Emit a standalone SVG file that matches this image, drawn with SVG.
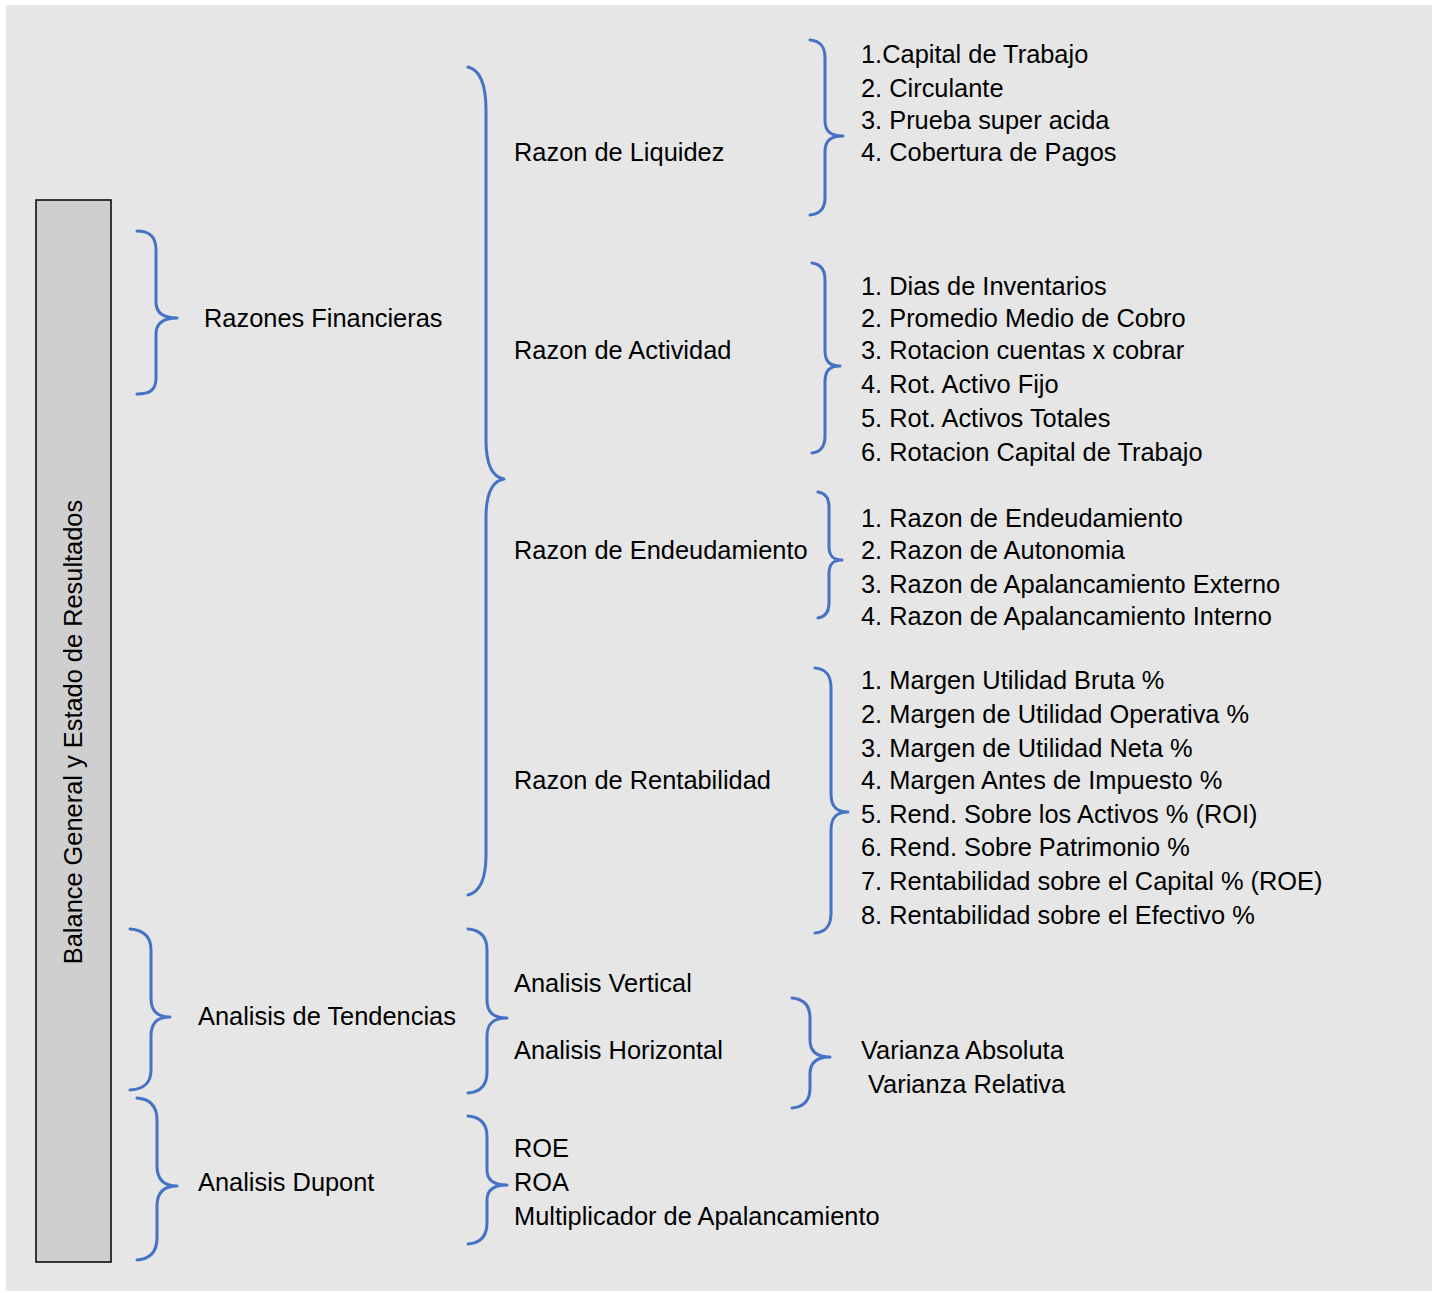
<svg xmlns="http://www.w3.org/2000/svg" width="1437" height="1293" viewBox="0 0 1437 1293">
<style>
.t{font-family:"Liberation Sans",Arial,sans-serif;font-size:25.4px;fill:#000}
.b{fill:none;stroke:#4472c4;stroke-width:3;stroke-linecap:round;stroke-linejoin:round}
</style>
<rect x="0" y="0" width="1437" height="1293" fill="#ffffff"/>
<rect x="6" y="5" width="1426" height="1286" fill="#e6e6e6"/>
<g id="root">
<rect x="36" y="200" width="75" height="1062" fill="#d0cfd0" stroke="#000" stroke-width="1.5"/>
<text class="t" transform="translate(82,732) rotate(-90)" text-anchor="middle">Balance General y Estado de Resultados</text>
</g>
<g id="connectors">
<path class="b" d="M137,231 C150,231 156,237 156,250 L156,302 C156,312 162,318 177,318 C162,318 156,324 156,334 L156,378 C156,390 150,394 137,394"/>
<path class="b" d="M468,67 C480,70 486,85 486,110 L486,440 C486,465 492,477 504,479 C492,481 486,493 486,518 L486,855 C486,880 480,892 468,895"/>
<path class="b" d="M810,40 C820,41 825,46 825,58 L825,120 C825,131 830,136 843,136 C830,136 825,141 825,152 L825,198 C825,209 820,214 810,215"/>
<path class="b" d="M812,263 C820,264 825,269 825,280 L825,350 C825,361 829,366 840,366 C829,366 825,371 825,382 L825,436 C825,447 820,452 812,453"/>
<path class="b" d="M818,492 C825,493 829,497 829,507 L829,546 C829,556 833,560 842,560 C833,560 829,564 829,574 L829,603 C829,613 825,617 818,618"/>
<path class="b" d="M815,668 C826,669 831,675 831,688 L831,794 C831,806 836,812 848,812 C836,812 831,818 831,830 L831,913 C831,926 826,932 815,933"/>
<path class="b" d="M130,929 C144,930 151,937 151,950 L151,998 C151,1011 157,1017 170,1017 C157,1017 151,1023 151,1036 L151,1070 C151,1083 144,1089 130,1090"/>
<path class="b" d="M137,1098 C150,1099 157,1106 157,1120 L157,1166 C157,1179 163,1186 177,1186 C163,1186 157,1193 157,1206 L157,1238 C157,1252 150,1259 137,1260"/>
<path class="b" d="M468,929 C481,930 487,937 487,950 L487,1000 C487,1012 493,1018 507,1018 C493,1018 487,1024 487,1036 L487,1072 C487,1085 481,1092 468,1093"/>
<path class="b" d="M468,1116 C481,1117 487,1124 487,1137 L487,1170 C487,1180 493,1185 507,1185 C493,1185 487,1190 487,1200 L487,1223 C487,1236 481,1243 468,1244"/>
<path class="b" d="M792,998 C804,999 810,1006 810,1018 L810,1040 C810,1051 816,1057 830,1057 C816,1057 810,1063 810,1074 L810,1088 C810,1100 804,1107 792,1108"/>
</g>
<g id="n-razones"><text class="t" x="204" y="327">Razones Financieras</text></g>
<g id="n-liquidez">
<text class="t" x="514" y="161">Razon de Liquidez</text>
</g>
<g id="n-liquidez-items">
<text class="t" x="861" y="63">1.Capital de Trabajo</text>
<text class="t" x="861" y="97">2. Circulante</text>
<text class="t" x="861" y="129">3. Prueba super acida</text>
<text class="t" x="861" y="161">4. Cobertura de Pagos</text>
</g>
<g id="n-actividad"><text class="t" x="514" y="359">Razon de Actividad</text></g>
<g id="n-actividad-items">
<text class="t" x="861" y="295">1. Dias de Inventarios</text>
<text class="t" x="861" y="327">2. Promedio Medio de Cobro</text>
<text class="t" x="861" y="359">3. Rotacion cuentas x cobrar</text>
<text class="t" x="861" y="393">4. Rot. Activo Fijo</text>
<text class="t" x="861" y="427">5. Rot. Activos Totales</text>
<text class="t" x="861" y="461">6. Rotacion Capital de Trabajo</text>
</g>
<g id="n-endeudamiento"><text class="t" x="514" y="559">Razon de Endeudamiento</text></g>
<g id="n-endeudamiento-items">
<text class="t" x="861" y="527">1. Razon de Endeudamiento</text>
<text class="t" x="861" y="559">2. Razon de Autonomia</text>
<text class="t" x="861" y="593">3. Razon de Apalancamiento Externo</text>
<text class="t" x="861" y="625">4. Razon de Apalancamiento Interno</text>
</g>
<g id="n-rentabilidad"><text class="t" x="514" y="789">Razon de Rentabilidad</text></g>
<g id="n-rentabilidad-items">
<text class="t" x="861" y="689">1. Margen Utilidad Bruta %</text>
<text class="t" x="861" y="723">2. Margen de Utilidad Operativa %</text>
<text class="t" x="861" y="757">3. Margen de Utilidad Neta %</text>
<text class="t" x="861" y="789">4. Margen Antes de Impuesto %</text>
<text class="t" x="861" y="823">5. Rend. Sobre los Activos % (ROI)</text>
<text class="t" x="861" y="856">6. Rend. Sobre Patrimonio %</text>
<text class="t" x="861" y="890">7. Rentabilidad sobre el Capital % (ROE)</text>
<text class="t" x="861" y="924">8. Rentabilidad sobre el Efectivo %</text>
</g>
<g id="n-tendencias"><text class="t" x="198" y="1025">Analisis de Tendencias</text></g>
<g id="n-vertical"><text class="t" x="514" y="992">Analisis Vertical</text></g>
<g id="n-horizontal"><text class="t" x="514" y="1059">Analisis Horizontal</text></g>
<g id="n-varianza">
<text class="t" x="861" y="1059">Varianza Absoluta</text>
<text class="t" x="868" y="1093">Varianza Relativa</text>
</g>
<g id="n-dupont"><text class="t" x="198" y="1191">Analisis Dupont</text></g>
<g id="n-dupont-items">
<text class="t" x="514" y="1157">ROE</text>
<text class="t" x="514" y="1191">ROA</text>
<text class="t" x="514" y="1225">Multiplicador de Apalancamiento</text>
</g>
</svg>
